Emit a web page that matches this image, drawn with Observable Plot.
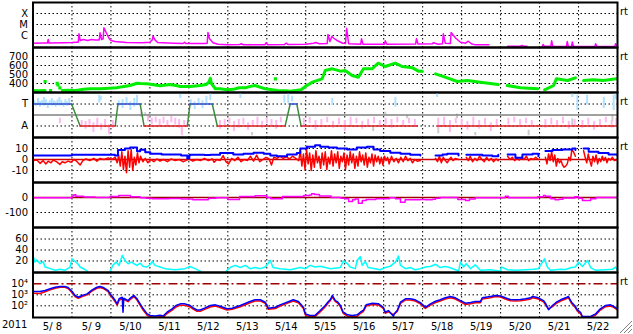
<!DOCTYPE html>
<html><head><meta charset="utf-8">
<script src="https://cdn.jsdelivr.net/npm/d3@7"></script>
<script src="https://cdn.jsdelivr.net/npm/@observablehq/plot@0.6"></script>
<style>
body{margin:0;background:#fff;}
#chart{position:relative;width:633px;height:334px;overflow:hidden;font-family:"DejaVu Sans",Verdana,sans-serif;background:#fff;}
.lbl{position:absolute;font-size:10px;line-height:10px;color:#000;white-space:pre;}
</style></head><body><div id="chart"></div>
<script>
// ---- axis labels ----
const dayLabels = ["5/ 8","5/ 9","5/10","5/11","5/12","5/13","5/14","5/15","5/16","5/17","5/18","5/19","5/20","5/21","5/22"];
const yearLabel = "2011";
const xrayTicks = [-4,-5,-6], xrayLabels = ["X","M","C"];
const speedTicks = [400,500,600,700];
const sectorTicks = [1,-1], sectorLabels = ["T","A"];
const bTicks = [10,0,-10];
const dstTicks = [0,-100];
const kTicks = [20,40,60];
const fluxTicks = [4,3,2], fluxLabels = ["10\u2074","10\u00b3","10\u00b2"];
const rtPanels = [0,1,2,3,6];

// ---- data: [day since 5/8 00UT, value] ----
const xray = [[0.00,-6.70],[0.26,-6.68],[0.37,-6.68],[0.39,-6.36],[0.41,-6.68],[0.80,-6.66],[1.00,-6.64],[1.10,-6.61],[1.16,-6.61],[1.18,-5.85],[1.21,-6.45],[1.30,-6.36],[1.40,-6.45],[1.50,-6.36],[1.60,-6.40],[1.70,-6.40],[1.72,-5.75],[1.76,-6.36],[1.80,-6.30],[1.82,-5.30],[1.88,-5.75],[1.95,-6.25],[2.00,-6.45],[2.10,-6.55],[2.40,-6.64],[2.80,-6.66],[3.00,-6.61],[3.06,-6.40],[3.08,-6.06],[3.13,-6.40],[3.20,-6.64],[3.60,-6.70],[3.85,-6.73],[3.89,-6.61],[3.92,-6.73],[4.40,-6.73],[4.47,-6.70],[4.49,-5.73],[4.53,-6.30],[4.62,-6.66],[4.75,-6.80],[5.00,-6.85],[5.30,-6.82],[5.35,-6.75],[5.40,-6.85],[5.95,-6.85],[5.98,-6.66],[6.02,-6.85],[6.45,-6.82],[6.50,-6.70],[6.55,-6.82],[7.00,-6.79],[7.20,-6.70],[7.25,-6.64],[7.35,-6.75],[7.55,-6.72],[7.57,-5.91],[7.62,-6.55],[7.67,-6.09],[7.72,-6.25],[7.80,-6.45],[7.95,-6.70],[8.02,-6.73],[8.05,-5.34],[8.10,-6.75],[8.41,-6.79],[8.43,-6.30],[8.47,-6.79],[9.02,-6.79],[9.04,-6.48],[9.08,-6.79],[9.82,-6.77],[9.84,-6.30],[9.88,-6.77],[10.25,-6.75],[10.27,-6.66],[10.40,-6.79],[10.51,-6.75],[10.53,-5.85],[10.58,-6.70],[10.71,-6.72],[10.73,-5.73],[10.85,-6.25],[10.97,-6.61],[11.10,-6.70],[11.17,-6.52],[11.25,-6.75],[11.35,-6.85],[11.70,-6.85],[11.72,null],[12.18,-6.97],[12.50,-6.97],[12.55,-6.90],[12.60,-6.97],[12.68,-6.97],[12.70,null],[13.07,-6.97],[13.09,-6.82],[13.12,-6.97],[13.29,-6.97],[13.31,-6.48],[13.34,-7.0],[13.69,-7.0],[13.71,-6.55],[13.74,-7.0],[13.82,-7.0],[13.84,-6.58],[13.87,-7.0],[14.42,-7.0],[14.44,-6.75],[14.47,-7.0],[14.93,-7.0],[14.95,-6.75],[15.0,-6.95]];

const speed = [[0.00,322],[0.15,320],[0.31,322],[0.33,null],[0.75,322],[0.90,325],[1.00,322],[1.10,322],[1.30,335],[1.46,341],[1.72,341],[1.85,345],[2.15,352],[2.30,365],[2.49,378],[2.67,403],[2.75,400],[2.93,397],[3.10,385],[3.26,374],[3.52,389],[3.70,375],[3.78,367],[4.03,367],[4.29,378],[4.45,390],[4.52,420],[4.55,459],[4.58,400],[4.68,341],[4.80,341],[4.98,330],[5.14,335],[5.29,352],[5.45,352],[5.55,365],[5.70,378],[5.96,341],[6.27,322],[6.50,320],[6.60,315],[6.88,330],[6.99,367],[7.17,415],[7.42,452],[7.50,544],[7.68,563],[7.89,537],[8.01,544],[8.19,489],[8.35,470],[8.48,563],[8.70,563],[8.86,626],[9.04,589],[9.30,626],[9.47,589],[9.74,574],[9.89,537],[9.99,537],[10.02,null],[10.33,507],[10.63,463],[10.89,422],[11.15,433],[11.48,415],[11.94,389],[11.97,null],[12.17,378],[12.51,352],[12.95,341],[12.98,null],[13.13,330],[13.36,378],[13.43,452],[13.72,433],[13.92,463],[13.95,null],[14.13,433],[14.38,441],[14.64,433],[14.97,452]];
const speedIso = [[0.31,422],[0.45,322],[0.62,403],[0.64,385],[0.69,352],[6.22,452]];

// IMF sector: [start, end, polarity]
const sectorSegs = [[0,0.99,1],[1.21,2.11,-1],[2.18,2.75,1],[2.85,3.96,-1],[4.03,4.60,1],[4.73,6.47,-1],[6.60,6.77,1],[6.88,9.86,-1],[10.37,15,-1]];
// scatter: [day, low, high]
const towardPts = [[0.03,0.9,1.3],[0.08,0.8,1.1],[0.13,0.9,1.5],[0.18,0.7,1.2],[0.23,0.9,1.3],[0.28,0.8,1.6],[0.33,1.0,1.4],[0.38,0.6,1.1],[0.43,0.9,1.3],[0.48,0.8,1.5],[0.53,1.0,1.3],[0.58,0.7,1.2],[0.63,0.9,1.4],[0.68,0.8,1.6],[0.73,1.0,1.3],[0.78,0.7,1.1],[0.83,0.9,1.4],[0.88,0.8,1.2],[0.93,1.0,1.5],[1.70,1.1,1.8],[1.74,1.3,1.7],[2.20,0.8,1.3],[2.30,0.6,1.4],[2.40,0.9,1.6],[2.50,0.4,1.2],[2.60,0.7,1.5],[2.67,0.9,1.8],[3.78,1.5,1.9],[4.05,0.8,1.4],[4.15,0.5,1.2],[4.25,0.9,1.5],[4.35,0.6,1.3],[4.45,1.0,1.7],[4.55,1.3,1.95],[5.32,1.5,1.95],[6.45,1.1,1.8],[6.55,1.05,1.95],[6.65,1.2,1.7],[7.68,0.86,1.5],[9.30,0.7,1.6],[10.37,1.6,1.95],[13.84,1.6,2.0],[13.97,0.4,1.8],[14.22,0.9,1.8],[14.65,0.6,1.6],[14.90,0.4,1.8],[14.95,1.4,2.0]];
const awayPts = [[0.69,-0.8,-0.3],[1.25,-1.0,-0.5],[1.35,-1.3,-0.6],[1.45,-0.9,-0.4],[1.55,-1.6,-0.7],[1.65,-1.1,-0.3],[1.75,-1.4,-0.8],[1.85,-1.0,-0.4],[1.95,-1.8,-0.9],[2.05,-1.2,-0.5],[2.95,-0.6,-0.1],[3.05,-0.9,-0.3],[3.15,-0.7,-0.2],[3.25,-1.0,-0.4],[3.35,-0.8,-0.2],[3.45,-1.1,-0.5],[3.55,-0.7,-0.1],[3.65,-0.9,-0.3],[3.75,-1.2,-0.4],[3.82,-1.9,-1.0],[3.88,-1.0,-0.5],[4.80,-1.3,-0.5],[4.92,-1.0,-0.4],[5.04,-0.8,-0.3],[5.16,-1.5,-0.6],[5.28,-1.2,-0.4],[5.40,-0.9,-0.3],[5.52,-1.4,-0.7],[5.64,-1.1,-0.5],[5.76,-0.9,-0.2],[5.88,-1.2,-0.6],[6.00,-0.8,-0.3],[6.12,-1.0,-0.4],[6.24,-1.3,-0.5],[6.36,-0.7,-0.2],[6.95,-1.1,-0.3],[7.10,-0.8,-0.2],[7.25,-1.4,-0.5],[7.40,-1.0,-0.4],[7.55,-0.7,-0.2],[7.70,-1.2,-0.6],[7.85,-0.9,-0.3],[8.00,-1.5,-0.5],[8.15,-1.0,-0.2],[8.30,-0.8,-0.3],[8.45,-1.3,-0.6],[8.60,-1.0,-0.4],[8.75,-0.8,-0.2],[8.90,-1.1,-0.5],[9.05,-0.9,-0.3],[9.20,-1.2,-0.4],[9.35,-0.7,-0.2],[9.50,-1.0,-0.5],[9.65,-0.8,-0.3],[9.80,-1.1,-0.4],[10.40,-1.3,-0.3],[10.55,-1.0,-0.2],[10.70,-1.6,-0.5],[10.85,-0.8,-0.3],[11.00,-1.2,-0.4],[11.15,-1.4,-0.6],[11.30,-1.0,-0.2],[11.45,-1.3,-0.5],[11.60,-0.9,-0.3],[11.75,-1.5,-0.7],[11.90,-1.1,-0.4],[12.20,-0.9,-0.3],[12.35,-0.7,-0.2],[12.50,-1.0,-0.4],[12.65,-0.8,-0.3],[12.80,-1.1,-0.5],[13.15,-1.2,-0.4],[13.30,-0.9,-0.3],[13.45,-1.1,-0.5],[13.60,-0.8,-0.2],[13.75,-1.3,-0.6],[13.90,-1.0,-0.4],[14.10,-1.2,-0.5],[14.25,-0.9,-0.3],[14.40,-1.4,-0.6],[14.55,-1.0,-0.4],[14.70,-0.7,-0.2],[14.85,-1.2,-0.5],[14.97,-1.0,-0.3]];
const greyPts = [[2.78,-0.2,0.25],[2.88,-0.1,0.2],[2.97,-0.2,0.1],[3.82,-1.6,-1.2],[5.62,-1.9,-1.6],[8.73,-1.5,-1.1],[9.04,-0.05,0.25],[9.60,-0.35,-0.05],[10.40,-1.7,-1.0],[10.88,-0.35,0.1],[11.35,-1.9,-1.6],[12.72,-1.9,-1.4],[13.84,-0.95,-0.35],[14.87,-0.65,0.05]];

const bt = [[0.00,3.6],[0.50,3.6],[0.98,3.6],[1.00,4.3],[1.50,4.3],[1.98,4.3],[2.10,3.6],[2.18,8.6],[2.36,10],[2.49,11],[2.67,7.5],[2.75,8.8],[2.88,6.6],[3.01,5.2],[3.26,5.2],[3.30,4.5],[3.78,4.5],[3.80,3.6],[3.94,3.6],[3.96,1.0],[4.01,3.6],[4.03,4.3],[4.29,4.3],[4.40,4.0],[4.55,4.3],[4.80,5.8],[5.14,4.5],[5.40,5.2],[5.66,6.1],[5.92,5.2],[6.09,3.6],[6.26,3.0],[6.52,4.5],[6.77,5.8],[6.86,10],[7.03,11.5],[7.24,13],[7.37,11.5],[7.58,11],[7.80,10],[8.06,9.1],[8.31,11],[8.57,11.5],[8.74,9.1],[8.91,7.7],[9.17,6.1],[9.43,5.2],[9.68,4.3],[9.94,3.6],[10.0,null],[10.33,3.6],[10.51,4.5],[10.63,5.2],[10.92,3.6],[10.95,null],[11.12,4.3],[11.53,3.6],[11.79,3.0],[11.94,4.3],[11.97,null],[12.18,4.5],[12.38,1.5],[12.56,4.5],[12.82,5.2],[12.97,3.0],[13.0,null],[13.15,7.7],[13.33,8.6],[13.59,9.1],[13.84,10],[13.92,8.6],[13.95,null],[14.13,10],[14.26,7],[14.51,5.8],[14.77,4.5],[15.0,3.6]];
const bz = [[0.00,-1],[0.10,-0.5],[0.18,-3.5],[0.26,-1],[0.33,-4],[0.39,-1.5],[0.46,-3],[0.52,-0.5],[0.60,-2],[0.69,-4.5],[0.75,-2],[0.82,-3],[0.90,-1.5],[0.98,-2.5],[1.05,0],[1.12,-1.5],[1.21,-5],[1.28,-1],[1.36,0.5],[1.46,-1],[1.56,1],[1.64,-1.5],[1.72,1],[1.82,0],[1.93,1.5],[2.02,0],[2.11,2],[2.16,-3],[2.20,4],[2.24,-6],[2.28,7],[2.32,-9],[2.36,3],[2.40,-12],[2.44,8],[2.48,-7],[2.52,9],[2.56,-10],[2.60,2],[2.64,-5],[2.68,6],[2.72,-3],[2.76,3],[2.82,-2],[2.88,1],[2.95,-3],[3.02,0],[3.10,-2],[3.18,0.5],[3.26,-1.5],[3.35,0],[3.45,-2],[3.55,0.5],[3.65,-1],[3.75,0],[3.85,-2],[3.92,-1],[4.00,0.5],[4.10,-1.5],[4.20,0],[4.30,-1],[4.40,1],[4.50,-1],[4.60,0.5],[4.65,-2.5],[4.72,0],[4.80,-1],[4.88,3.5],[4.95,-2],[5.02,-4],[5.10,1],[5.18,-1],[5.26,2],[5.34,-2],[5.42,0],[5.50,-1],[5.58,3],[5.66,-1.5],[5.74,4],[5.82,-2],[5.90,0],[5.98,2],[6.06,0.5],[6.12,-5],[6.18,2],[6.26,1],[6.34,3],[6.42,1],[6.50,2.5],[6.58,0.5],[6.66,3],[6.74,1],[6.82,-1],[6.86,8],[6.90,-6],[6.94,5],[6.98,-9],[7.02,9],[7.06,-4],[7.10,6],[7.14,-10],[7.18,4],[7.22,-7],[7.26,8],[7.30,-3],[7.34,3],[7.38,-8],[7.42,6],[7.46,-5],[7.50,7],[7.54,-9],[7.58,2],[7.62,-4],[7.66,8],[7.70,-6],[7.74,5],[7.78,-3],[7.82,7],[7.86,-8],[7.90,3],[7.94,-2],[7.98,6],[8.02,-9],[8.06,4],[8.10,-5],[8.14,7],[8.18,-3],[8.22,5],[8.26,-8],[8.30,3],[8.34,-6],[8.38,7],[8.42,-2],[8.46,4],[8.50,-5],[8.54,6],[8.58,-7],[8.62,2],[8.66,-3],[8.70,5],[8.74,-6],[8.78,4],[8.82,-2],[8.86,3],[8.90,-4],[8.94,2],[8.98,-5],[9.02,3],[9.06,-1],[9.10,2],[9.14,-4],[9.20,3],[9.26,-2],[9.32,1],[9.38,-3],[9.44,2],[9.50,-2],[9.56,3],[9.62,-1],[9.68,1],[9.74,-3],[9.80,0],[9.86,-1.5],[9.94,-1],[9.97,null],[10.33,1],[10.38,-2],[10.43,3],[10.48,-3],[10.53,2],[10.58,-1],[10.63,-3],[10.68,0],[10.73,2],[10.78,-1],[10.84,1],[10.92,0],[10.95,null],[11.12,2],[11.17,-1],[11.22,3],[11.28,-2],[11.34,1],[11.40,-1],[11.46,3],[11.52,0],[11.58,-2],[11.64,2],[11.70,-1],[11.76,1],[11.82,-2],[11.88,0.5],[11.94,-1],[11.97,null],[12.18,3],[12.24,0],[12.30,2],[12.36,-1],[12.42,1],[12.48,-0.5],[12.54,2],[12.60,0],[12.66,3],[12.72,-1],[12.78,1],[12.84,0],[12.90,2],[12.97,0],[13.0,null],[13.15,2],[13.19,-4],[13.23,5],[13.27,-1],[13.31,7],[13.35,-2],[13.39,4],[13.43,-6],[13.47,1],[13.51,-3],[13.55,-1],[13.59,-5],[13.63,-7],[13.67,-6],[13.71,-4],[13.75,2],[13.79,-1],[13.83,9],[13.87,7],[13.92,3],[13.95,null],[14.13,8],[14.17,2],[14.21,-3],[14.25,5],[14.29,-1],[14.33,-6],[14.37,3],[14.41,-2],[14.45,4],[14.49,-4],[14.53,1],[14.57,-2],[14.61,3],[14.65,-1],[14.69,2],[14.73,-3],[14.77,1],[14.82,-0.5],[14.87,2],[14.92,-1],[15.0,0]];

const dst = [[0.00,-2],[0.50,-2],[0.98,-2],[1.00,10],[1.05,18],[1.10,8],[1.30,3],[1.60,0],[1.98,7],[2.20,13],[2.50,5],[2.75,-2],[2.90,-5],[3.05,-9],[3.30,-9],[3.50,-7],[3.80,-10],[4.10,-15],[4.30,-15],[4.50,-5],[4.70,-2],[4.98,-2],[5.00,-13],[5.20,-13],[5.30,7],[5.55,7],[5.70,11],[5.95,11],[6.00,0],[6.10,-9],[6.30,-9],[6.40,7],[6.80,7],[6.95,13],[7.10,17],[7.15,25],[7.22,20],[7.35,10],[7.55,10],[7.65,0],[7.90,-5],[8.00,-9],[8.10,-27],[8.20,-15],[8.27,-10],[8.35,-38],[8.45,-20],[8.55,-13],[8.80,-9],[9.00,-9],[9.15,-2],[9.30,-9],[9.43,-31],[9.55,-15],[9.70,-15],[9.94,-13],[10.07,-15],[10.25,-12],[10.33,-5],[10.45,0],[10.80,0],[10.90,-13],[11.10,-20],[11.20,-10],[11.35,-2],[11.90,-2],[12.12,9],[12.20,-2],[12.80,-2],[12.95,5],[13.10,13],[13.15,8],[13.28,-9],[13.40,-15],[13.50,-12],[13.60,-3],[13.90,5],[14.00,-5],[14.10,-20],[14.25,-20],[14.31,-9],[14.45,0],[14.90,0],[15.0,7]];

const kp = [[0.00,30],[0.05,18],[0.10,22],[0.18,15],[0.26,19],[0.31,9],[0.44,6],[0.57,3],[0.69,5],[0.82,3],[0.95,9],[1.00,24],[1.08,19],[1.16,14],[1.21,9],[1.34,4],[1.39,1.5],[1.42,null],[1.98,1.5],[2.05,12],[2.13,18],[2.21,12],[2.29,30],[2.36,21],[2.44,15],[2.52,18],[2.59,15],[2.67,12],[2.75,16],[2.83,10],[2.93,9],[3.01,14],[3.06,19],[3.13,12],[3.26,9],[3.39,6],[3.52,5],[3.65,4],[3.78,5],[3.90,6],[4.03,10],[4.16,6],[4.29,1.5],[4.32,null],[4.96,1.5],[5.06,8],[5.19,12],[5.32,8],[5.45,12],[5.57,6],[5.70,8],[5.83,6],[5.96,9],[6.09,21],[6.16,8],[6.34,6],[6.60,4],[6.86,8],[6.99,6],[7.11,12],[7.24,9],[7.37,10.5],[7.50,8],[7.63,6],[7.89,8],[7.96,20],[8.07,15],[8.14,9],[8.27,6],[8.32,21],[8.40,28],[8.45,12],[8.53,19],[8.60,8],[8.78,6],[8.91,4],[9.04,8],[9.17,10.5],[9.30,18],[9.38,29],[9.43,12],[9.56,6],[9.68,8],[9.81,4],[9.94,6],[10.07,9],[10.20,10],[10.33,14],[10.45,8],[10.58,10],[10.71,7.6],[10.84,4],[10.92,1.5],[10.97,18],[11.05,9],[11.12,15],[11.23,6],[11.35,13],[11.48,3],[11.74,4],[12.00,1.5],[12.02,9],[12.18,4],[12.38,3],[12.64,4],[12.84,5],[12.97,6],[13.02,12],[13.13,24],[13.20,9],[13.28,3],[13.54,5],[13.67,4.5],[13.79,7.6],[13.92,9],[14.00,18],[14.10,10],[14.23,21],[14.31,8],[14.44,3],[14.69,4],[14.87,5],[14.95,9],[15.0,3]];

const fluxBlue = [[0.00,3.30],[0.18,3.30],[0.31,3.39],[0.44,3.55],[0.57,3.69],[0.69,3.75],[0.82,3.75],[0.90,3.66],[1.00,3.33],[1.08,2.94],[1.16,2.78],[1.26,2.94],[1.39,3.09],[1.52,3.45],[1.64,3.69],[1.72,3.75],[1.82,3.64],[1.93,3.39],[1.98,3.09],[2.05,2.78],[2.11,2.48],[2.16,2.18],[2.21,2.64],[2.29,2.78],[2.31,1.42],[2.33,2.70],[2.36,2.64],[2.44,2.48],[2.52,2.78],[2.59,2.94],[2.67,2.64],[2.75,2.18],[2.83,1.73],[2.93,1.27],[3.01,1.12],[3.13,1.08],[3.26,1.15],[3.34,1.08],[3.44,1.42],[3.57,1.73],[3.67,2.03],[3.78,2.18],[3.90,2.18],[4.03,2.03],[4.11,1.82],[4.21,1.62],[4.29,1.62],[4.42,1.82],[4.55,2.03],[4.68,2.09],[4.80,1.96],[4.98,1.73],[5.11,1.78],[5.32,2.03],[5.57,2.39],[5.70,2.55],[5.83,2.55],[5.96,2.33],[6.04,1.78],[6.22,1.87],[6.34,2.09],[6.52,2.33],[6.68,2.55],[6.81,2.39],[6.94,1.87],[6.99,1.27],[7.11,1.12],[7.24,1.15],[7.37,1.57],[7.50,2.03],[7.58,2.39],[7.63,2.57],[7.68,2.94],[7.76,2.48],[7.81,2.39],[7.89,2.03],[7.96,1.42],[8.07,1.18],[8.19,1.12],[8.32,1.18],[8.40,1.42],[8.48,1.60],[8.55,2.09],[8.71,2.24],[8.86,2.20],[8.99,1.87],[9.04,1.42],[9.12,1.57],[9.25,1.05],[9.27,1.27],[9.35,1.60],[9.43,2.33],[9.56,2.64],[9.68,2.64],[9.81,2.55],[9.94,2.29],[10.07,1.87],[10.20,2.18],[10.33,2.42],[10.45,2.55],[10.58,2.73],[10.71,2.85],[10.84,2.73],[10.97,2.48],[11.10,2.24],[11.23,2.30],[11.35,2.39],[11.48,2.39],[11.53,2.73],[11.74,2.85],[11.87,2.94],[12.00,2.90],[12.12,2.73],[12.25,2.57],[12.38,2.55],[12.51,2.57],[12.64,2.64],[12.77,2.73],[12.82,2.85],[12.97,2.73],[13.10,2.48],[13.15,2.24],[13.23,1.65],[13.33,2.03],[13.43,2.33],[13.54,2.55],[13.67,2.73],[13.74,2.85],[13.82,2.33],[13.90,2.03],[13.97,1.64],[14.05,1.42],[14.10,1.03],[14.31,1.03],[14.44,1.27],[14.56,1.73],[14.69,2.03],[14.82,2.09],[14.90,1.96],[15.0,1.73]];
const fluxRed = [[0.00,3.15],[0.18,3.12],[0.31,3.28],[0.44,3.45],[0.57,3.60],[0.69,3.68],[0.82,3.68],[0.90,3.58],[1.00,3.22],[1.08,2.85],[1.16,2.68],[1.26,2.84],[1.39,3.00],[1.52,3.36],[1.64,3.60],[1.72,3.66],[1.82,3.55],[1.93,3.28],[1.98,2.98],[2.05,2.66],[2.11,2.36],[2.16,2.06],[2.21,2.50],[2.29,2.66],[2.36,2.52],[2.44,2.38],[2.52,2.66],[2.59,2.84],[2.67,2.52],[2.75,2.04],[2.83,1.60],[2.93,1.14],[3.01,1.0],[3.13,0.96],[3.26,1.02],[3.34,0.96],[3.44,1.30],[3.57,1.60],[3.67,1.90],[3.78,2.06],[3.90,2.05],[4.03,1.90],[4.11,1.70],[4.21,1.50],[4.29,1.50],[4.42,1.70],[4.55,1.90],[4.68,1.98],[4.80,1.85],[4.98,1.62],[5.11,1.68],[5.32,1.92],[5.57,2.28],[5.70,2.44],[5.83,2.45],[5.96,2.22],[6.04,1.68],[6.22,1.76],[6.34,1.98],[6.52,2.22],[6.68,2.44],[6.81,2.28],[6.94,1.76],[6.99,1.16],[7.11,1.0],[7.24,1.04],[7.37,1.45],[7.50,1.92],[7.58,2.28],[7.63,2.46],[7.68,2.80],[7.76,2.38],[7.81,2.28],[7.89,1.92],[7.96,1.32],[8.07,1.06],[8.19,1.0],[8.32,1.06],[8.40,1.30],[8.48,1.50],[8.55,1.98],[8.71,2.12],[8.86,2.08],[8.99,1.76],[9.04,1.32],[9.12,1.45],[9.25,1.20],[9.35,1.50],[9.43,2.22],[9.56,2.54],[9.68,2.54],[9.81,2.44],[9.94,2.18],[10.07,1.76],[10.20,2.06],[10.33,2.30],[10.45,2.44],[10.58,2.62],[10.71,2.74],[10.84,2.62],[10.97,2.36],[11.10,2.12],[11.23,2.18],[11.35,2.28],[11.48,2.28],[11.53,2.62],[11.74,2.74],[11.87,2.84],[12.00,2.80],[12.12,2.62],[12.25,2.46],[12.38,2.44],[12.51,2.46],[12.64,2.54],[12.77,2.62],[12.82,2.74],[12.97,2.62],[13.10,2.36],[13.15,2.12],[13.23,1.70],[13.33,1.92],[13.43,2.22],[13.54,2.44],[13.67,2.62],[13.74,2.74],[13.82,2.22],[13.90,1.92],[13.97,1.52],[14.05,1.30],[14.10,0.95],[14.31,0.95],[14.44,1.16],[14.56,1.62],[14.69,1.92],[14.82,1.98],[14.90,1.86],[15.0,1.62]];

// ---- layout ----
const W = 633, ML = 32.5, MR = 16, PH = 45, TOP = 2;
const T0 = Date.UTC(2011, 4, 8);
const D = d => new Date(T0 + d * 864e5);
const xDomain = [D(0), D(dayLabels.length)];
const dayBounds = d3.range(1, dayLabels.length).map(D);
const dayMids = dayLabels.map((_, i) => D(i + 0.5));
const FONT = '"DejaVu Sans", Verdana, sans-serif';
const FS = 10;
const dotted = {stroke: "black", strokeWidth: 1, strokeDasharray: "1.5,2.5"};
const chart = document.getElementById("chart");
const X = d => D(d[0]), Y = d => d[1];

function makePanel(i, yDomain, ticks, labels, marks, last = false) {
  const mb = last ? 17 : 2;
  const svg = Plot.plot({
    width: W, height: PH + 2 + mb,
    marginLeft: ML, marginRight: MR, marginTop: 2, marginBottom: mb,
    x: last ? {type: "utc", domain: xDomain} : {type: "utc", domain: xDomain, axis: null},
    y: {domain: yDomain},
    style: {fontFamily: FONT, fontSize: FS + "px", background: "none", color: "black", overflow: "visible"},
    marks: [
      Plot.ruleX(dayBounds, dotted),
      ...marks,
      Plot.frame({stroke: "black", strokeWidth: 2}),
      Plot.axisY(ticks, {tickFormat: d => labels[ticks.indexOf(d)], tickSize: 0, tickPadding: 5, label: null, fontSize: FS}),
      ...(last ? [Plot.axisX(dayMids, {tickFormat: d => dayLabels[Math.floor((d - T0) / 864e5)], tickSize: 0, tickPadding: 5, label: null, fontSize: FS})] : [])
    ]
  });
  svg.style.position = "absolute";
  svg.style.left = "0px";
  svg.style.top = (TOP + PH * i - 2) + "px";
  chart.appendChild(svg);
}

// 1: X-ray
makePanel(0, [-7.09, -3], xrayTicks, xrayLabels, [
  Plot.ruleY(xrayTicks, dotted),
  Plot.line(xray, {x: X, y: Y, stroke: "#ff00ff", strokeWidth: 1.5, clip: true})
]);
// 2: solar wind speed
makePanel(1, [300, 800], speedTicks, speedTicks.map(String), [
  Plot.ruleY(speedTicks, dotted),
  Plot.line(speed, {x: X, y: Y, stroke: "#00ee00", strokeWidth: 3, clip: true}),
  Plot.dot(speedIso, {x: X, y: Y, fill: "#00ee00", stroke: "none", r: 1.8, symbol: "square", clip: true})
]);
// 3: IMF sector
const sectorLine = [];
sectorSegs.forEach((s, i) => {
  sectorLine.push({t: s[0], v: s[2], k: "s" + i, c: s[2] > 0 ? "T" : "A"}, {t: s[1], v: s[2], k: "s" + i, c: s[2] > 0 ? "T" : "A"});
  const n = sectorSegs[i + 1];
  if (n && n[2] !== s[2]) sectorLine.push({t: s[1], v: s[2], k: "x" + i, c: "X"}, {t: n[0], v: n[2], k: "x" + i, c: "X"});
});
const sl = (c, color) => Plot.line(sectorLine.filter(d => d.c === c), {x: d => D(d.t), y: "v", z: "k", stroke: color, strokeWidth: 1.5, clip: true});
const pts = (data, color) => Plot.ruleX(data, {x: X, y1: d => d[1], y2: d => d[2], stroke: color, strokeWidth: 2, clip: true});
makePanel(2, [-2.05, 2.05], sectorTicks, sectorLabels, [
  Plot.ruleY(sectorTicks, dotted),
  pts(greyPts, "#cccccc"),
  pts(towardPts, "#b0e2ff"),
  pts(awayPts, "#ffb8f0"),
  Plot.ruleY([0], {stroke: "#808080", strokeWidth: 1.5}),
  sl("X", "#3c8c3c"), sl("T", "#3050d0"), sl("A", "#e02020")
]);
// 4: IMF Bt / Bz
makePanel(3, [-20.9, 20], bTicks, bTicks.map(String), [
  Plot.ruleY([10, -10], dotted),
  Plot.ruleY([0], {stroke: "#d00000", strokeWidth: 1.5}),
  Plot.line(bz, {x: X, y: Y, stroke: "#ff0000", strokeWidth: 1.5, clip: true}),
  Plot.line(bt, {x: X, y: Y, stroke: "#0000ff", strokeWidth: 2, curve: "step-after", clip: true})
]);
// 5: Dst
makePanel(4, [-200, 100], dstTicks, dstTicks.map(String), [
  Plot.ruleY([-100], dotted),
  Plot.ruleY([0], {stroke: "#a00000", strokeWidth: 1.5}),
  Plot.line(dst, {x: X, y: Y, stroke: "#ff00ff", strokeWidth: 1.5, curve: "step-after", clip: true})
]);
// 6: index
makePanel(5, [-1, 81], kTicks, kTicks.map(String), [
  Plot.ruleY(kTicks, dotted),
  Plot.line(kp, {x: X, y: Y, stroke: "#00ffff", strokeWidth: 1.5, clip: true})
]);
// 7: electron flux
makePanel(6, [0.94, 5.03], fluxTicks, fluxLabels, [
  Plot.ruleY([3, 2], dotted),
  Plot.ruleY([4], {stroke: "#a00000", strokeWidth: 1.5, strokeDasharray: "9,3,2,3"}),
  Plot.line(fluxRed, {x: X, y: Y, stroke: "#ff0000", strokeWidth: 1.5, clip: true}),
  Plot.line(fluxBlue, {x: X, y: Y, stroke: "#0000ff", strokeWidth: 1.5, clip: true})
], true);

// overlays: "rt" marks, year
rtPanels.forEach(i => {
  const s = document.createElement("div");
  s.className = "lbl"; s.textContent = "rt";
  s.style.left = "620px"; s.style.top = (TOP + PH * i + 5) + "px";
  chart.appendChild(s);
});
const yr = document.createElement("div");
yr.className = "lbl"; yr.textContent = yearLabel;
yr.style.left = "2px"; yr.style.top = "320px";
chart.appendChild(yr);
// window resize grip
chart.insertAdjacentHTML("beforeend",
  '<svg width="14" height="14" style="position:absolute;left:619px;top:320px"><g stroke-width="1"><path d="M13 1L1 13M13 5L5 13M13 9L9 13" stroke="#808080"/><path d="M13 2L2 13M13 6L6 13M13 10L10 13" stroke="#ffffff"/></g></svg>');
</script></body></html>
